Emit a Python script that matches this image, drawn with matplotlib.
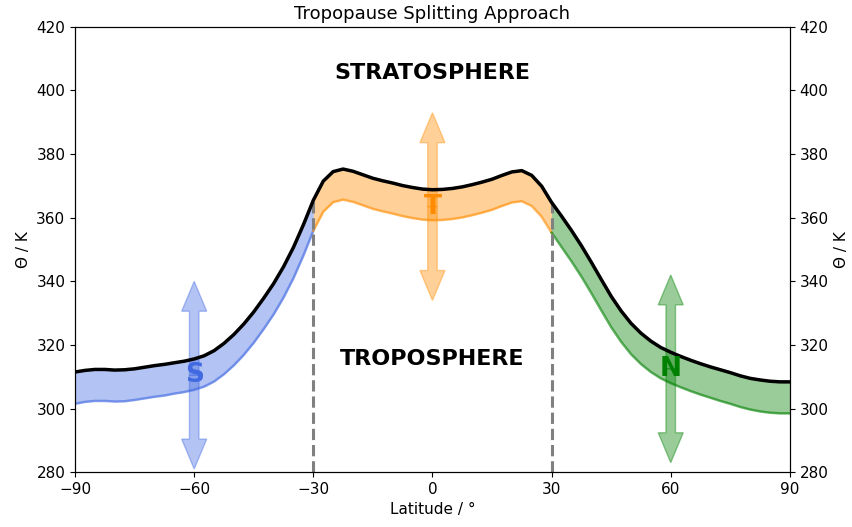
import matplotlib.pyplot as plt

# Zonal-mean tropopause (upper edge) and the lower edge of each split region,
# on a 2.5 degree latitude grid
lat = [i * 2.5 - 90 for i in range(73)]
theta_upper = [
    311.5, 312.0, 312.3, 312.3, 312.1, 312.2, 312.5, 313.0, 313.5, 313.9,
    314.4, 314.9, 315.6, 316.6, 318.2, 320.5, 323.3, 326.6, 330.4, 334.7,
    339.3, 344.6, 350.7, 357.8, 365.5, 371.5, 374.5, 375.3, 374.6, 373.5,
    372.4, 371.6, 370.9, 370.1, 369.5, 369.0, 368.8, 368.9, 369.2, 369.7,
    370.4, 371.2, 372.1, 373.3, 374.4, 374.8, 373.3, 369.9, 364.8, 360.5,
    356.0, 351.2, 346.0, 340.6, 335.3, 330.7, 326.8, 323.7, 321.2, 319.2,
    317.7, 316.4, 315.2, 314.1, 313.1, 312.2, 311.3, 310.3, 309.5, 309.0,
    308.6, 308.4, 308.4,
]
theta_lower = [
    301.5, 302.1, 302.4, 302.4, 302.2, 302.3, 302.7, 303.2, 303.7, 304.1,
    304.7, 305.2, 305.9, 306.9, 308.5, 310.8, 313.6, 316.9, 320.7, 325.0,
    329.6, 334.9, 341.0, 348.1, 355.9, 361.9, 364.9, 365.7, 365.0, 363.9,
    362.8, 362.0, 361.3, 360.5, 359.9, 359.4, 359.2, 359.3, 359.6, 360.1,
    360.8, 361.6, 362.5, 363.7, 364.8, 365.2, 363.7, 360.3, 355.3, 350.8,
    346.3, 341.5, 336.3, 330.9, 325.6, 321.0, 317.1, 314.0, 311.5, 309.5,
    308.0, 306.7, 305.5, 304.4, 303.4, 302.4, 301.5, 300.5, 299.7, 299.1,
    298.7, 298.5, 298.5,
]

region_names = ["S", "T", "N"]
region_bounds = [(-90, -30), (-30, 30), (30, 90)]
region_colors = ["royalblue", "darkorange", "green"]
arrow_lat = [-60, 0, 60]
arrow_theta = [310.5, 363.5, 312.5]
arrow_half = 29.5


def in_region(lo, hi):
    idx = [i for i, x in enumerate(lat) if lo <= x <= hi]
    return ([lat[i] for i in idx], [theta_upper[i] for i in idx],
            [theta_lower[i] for i in idx])


fig, ax = plt.subplots(figsize=(8.53, 5.27), dpi=100)
fig.subplots_adjust(left=0.088, right=0.926, bottom=0.104, top=0.949)

for (lo, hi), col in zip(region_bounds, region_colors):
    xs, up, low = in_region(lo, hi)
    ax.fill_between(xs, low, up, color=col, alpha=0.4, lw=0, zorder=2)
    ax.plot(xs, low, color=col, alpha=0.6, lw=1.8, zorder=2)

# double-headed arrows showing the freedom of each region
for x, y, col in zip(arrow_lat, arrow_theta, region_colors):
    for sign in (1, -1):
        ax.arrow(x, y, 0, sign * arrow_half, width=2.4, head_width=6.3,
                 head_length=9.4, length_includes_head=True,
                 color=col, alpha=0.4, lw=1, zorder=1)

ax.plot(lat, theta_upper, color="black", lw=2.5, zorder=3)

# boundaries between the regions
for b in (-30, 30):
    ax.plot([b, b], [280, theta_upper[lat.index(b)]], color="grey",
            ls="--", lw=2.2, zorder=2.5)

for name, x, y, col in zip(region_names, arrow_lat, arrow_theta,
                           region_colors):
    ax.text(x, y, name, color=col, fontsize=19, fontweight="bold",
            ha="center", va="center", zorder=4)

ax.text(0, 405.5, "STRATOSPHERE", fontsize=16, fontweight="bold",
        ha="center", va="center")
ax.text(0, 315.5, "TROPOSPHERE", fontsize=16, fontweight="bold",
        ha="center", va="center")

ax.set_xlim(-90, 90)
ax.set_ylim(280, 420)
ax.set_xticks([-90, -60, -30, 0, 30, 60, 90])
ax.set_yticks(range(280, 421, 20))
ax.tick_params(labelsize=11)
ax.set_xlabel("Latitude / °", fontsize=11)
ax.set_ylabel("Θ / K", fontsize=11)
ax.set_title("Tropopause Splitting Approach", fontsize=13, pad=6)

ax2 = ax.twinx()
ax2.set_ylim(280, 420)
ax2.set_yticks(range(280, 421, 20))
ax2.tick_params(labelsize=11)
ax2.set_ylabel("Θ / K", fontsize=11)

fig.savefig("out.png")
